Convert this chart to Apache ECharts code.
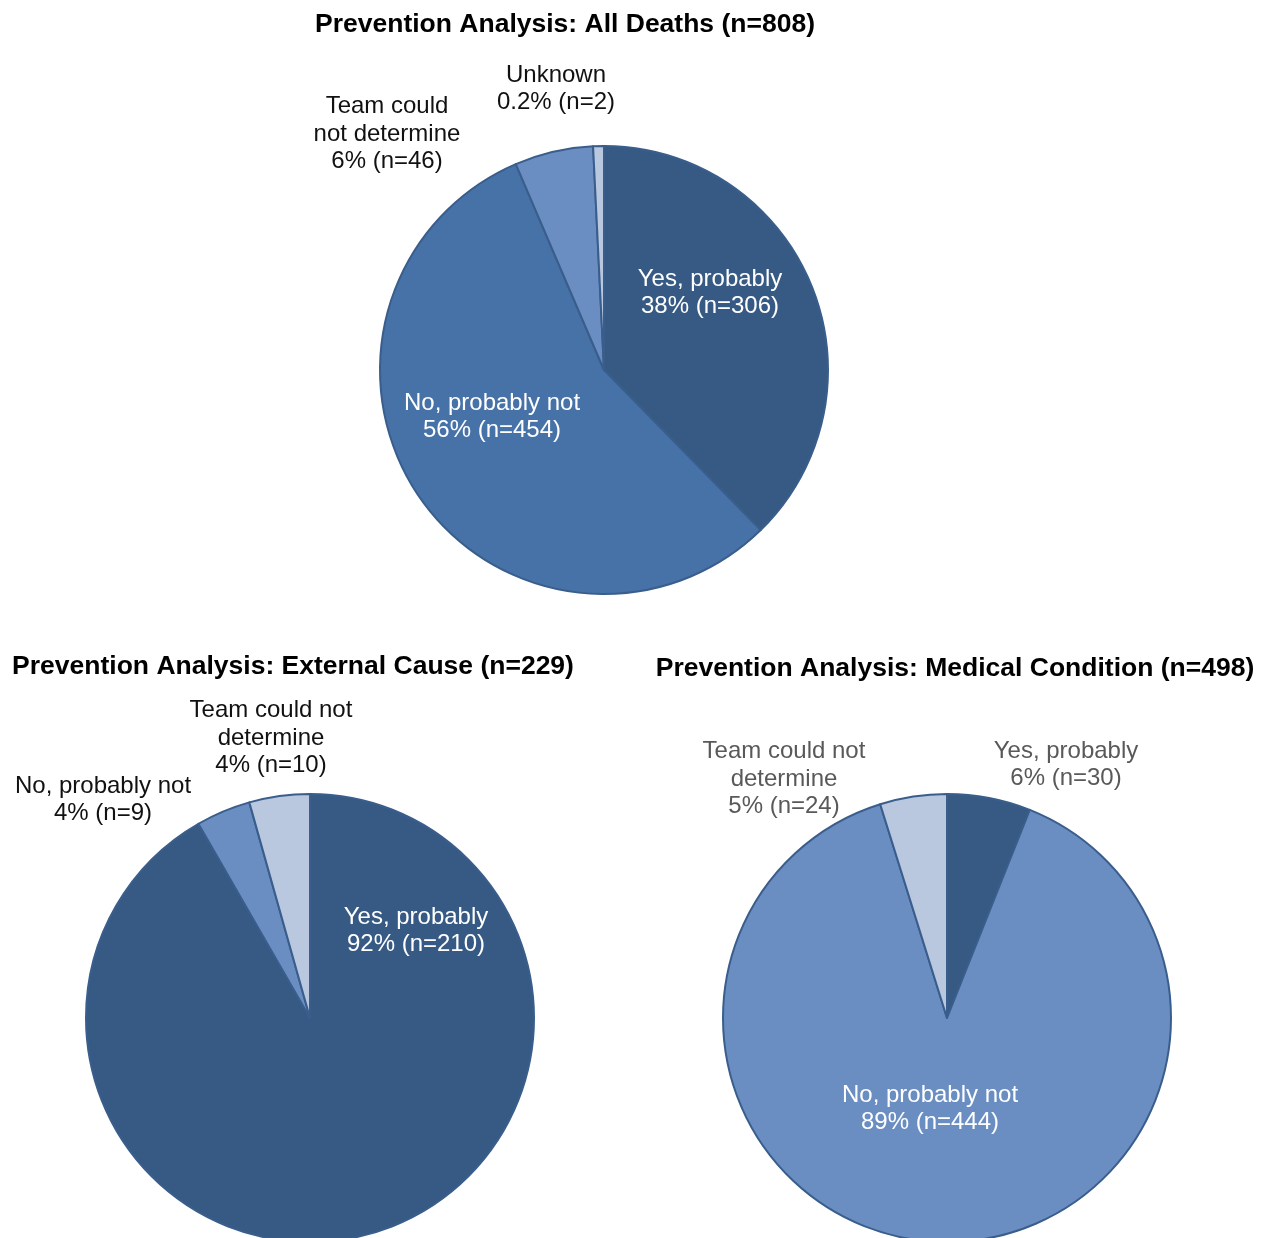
<!DOCTYPE html>
<html>
<head>
<meta charset="utf-8">
<script src="https://cdn.jsdelivr.net/npm/echarts@6/dist/echarts.min.js"></script>
<style>
html,body{margin:0;padding:0;background:#fff;}
#c{width:1267px;height:1238px;}
</style>
</head>
<body>
<div id="c"></div>
<script>
// ---- Data ----
const titles = [
  'Prevention Analysis: All Deaths (n=808)',
  'Prevention Analysis: External Cause (n=229)',
  'Prevention Analysis: Medical Condition (n=498)'
];
const allCategories = ['Yes, probably', 'No, probably not', 'Team could not determine', 'Unknown'];
const allValues = [306, 454, 46, 2];
const allPct = ['38%', '56%', '6%', '0.2%'];

const extCategories = ['Yes, probably', 'No, probably not', 'Team could not determine'];
const extValues = [210, 9, 10];
const extPct = ['92%', '4%', '4%'];

const medCategories = ['Yes, probably', 'No, probably not', 'Team could not determine'];
const medValues = [30, 444, 24];
const medPct = ['6%', '89%', '5%'];

// ---- Styling / layout ----
const FONT = '"Liberation Sans", Arial, sans-serif';
const C_DARK = '#375A84', C_MED = '#4672A8', C_LIGHT = '#6A8EC2', C_PALE = '#B9C7DF';
const BORDER = '#3A5E8C';

// label texts (line breaks as in the reference)
const allLabelText = ['Yes, probably', 'No, probably not', 'Team could\nnot determine', 'Unknown'];
const extLabelText = ['Yes, probably', 'No, probably not', 'Team could not\ndetermine'];
const medLabelText = ['Yes, probably', 'No, probably not', 'Team could not\ndetermine'];

// label anchor positions (centers) per series/dataIndex
const labelPos = [
  [[710, 293], [492, 417], [387, 134], [556, 89]],
  [[416, 931], [103, 800], [271, 738]],
  [[1066, 765], [930, 1109], [784, 779]]
];
const labelColors = [
  ['#fff', '#fff', '#111', '#111'],
  ['#fff', '#111', '#111'],
  ['#595959', '#fff', '#595959']
];

function buildData(cats, vals, pcts, texts, colors, si) {
  return cats.map((c, i) => ({
    name: c,
    value: vals[i],
    itemStyle: { color: colors[i] },
    label: {
      formatter: texts[i] + '\n' + pcts[i] + ' (n=' + vals[i] + ')',
      color: labelColors[si][i]
    }
  }));
}

function pieSeries(center, data, minAngle) {
  return {
    type: 'pie',
    center: center,
    radius: 224,
    startAngle: 90,
    clockwise: true,
    minAngle: minAngle || 0,
    animation: false,
    silent: true,
    avoidLabelOverlap: false,
    itemStyle: { borderColor: BORDER, borderWidth: 2 },
    label: {
      show: true,
      position: 'inside',
      fontFamily: FONT,
      fontSize: 24,
      lineHeight: 27.5,
      align: 'center'
    },
    labelLine: { show: false },
    labelLayout: function (p) {
      const pos = labelPos[p.seriesIndex][p.dataIndex];
      return { x: pos[0], y: pos[1], align: 'center', verticalAlign: 'middle' };
    },
    data: data
  };
}

const chart = echarts.init(document.getElementById('c'), null, { renderer: 'canvas' });
chart.setOption({
  backgroundColor: '#fff',
  title: [
    { text: titles[0], left: 560, top: 6, textAlign: 'center' },
    { text: titles[1], left: 288, top: 648, textAlign: 'center' },
    { text: titles[2], left: 950, top: 650, textAlign: 'center' }
  ].map(t => Object.assign(t, {
    textStyle: { fontFamily: FONT, fontSize: 26.5, fontWeight: 'bold', color: '#000' }
  })),
  series: [
    pieSeries([604, 370], buildData(allCategories, allValues, allPct, allLabelText, [C_DARK, C_MED, C_LIGHT, C_PALE], 0), 2.8),
    pieSeries([310, 1018], buildData(extCategories, extValues, extPct, extLabelText, [C_DARK, C_LIGHT, C_PALE], 1)),
    pieSeries([947, 1018], buildData(medCategories, medValues, medPct, medLabelText, [C_DARK, C_LIGHT, C_PALE], 2))
  ]
});
</script>
</body>
</html>
